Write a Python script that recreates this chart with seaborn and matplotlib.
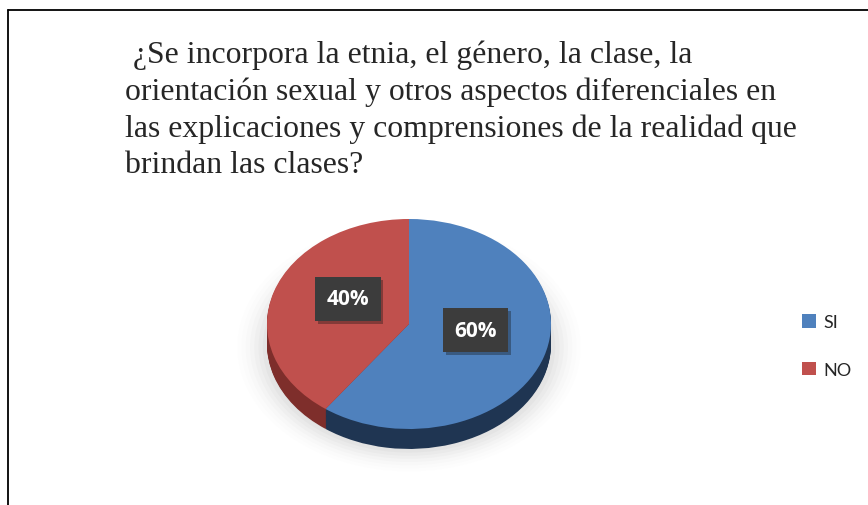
import numpy as np
import matplotlib
matplotlib.use("Agg")
import matplotlib.pyplot as plt
import matplotlib.patheffects as pe
from matplotlib.lines import Line2D
from matplotlib.patches import Patch, Ellipse
import seaborn as sns

sns.set_style("white")

labels = ["SI", "NO"]
values = [60, 40]
top_colors = ["#4F81BD", "#C0504D"]
side_colors = ["#1F3552", "#7E2E2B"]
title_lines = [" ¿Se incorpora la etnia, el género, la clase, la",
               "orientación sexual y otros aspectos diferenciales en",
               "las explicaciones y comprensiones de la realidad que",
               "brindan las clases?"]

W, H = 868, 506
fig = plt.figure(figsize=(W / 100, H / 100), dpi=100)
fig.patch.set_facecolor("white")

# frame (cropped: only top and left edges visible)
fig.add_artist(Line2D([8 / W, 8 / W], [0, 1 - 11 / H], color="black", lw=1.3))
fig.add_artist(Line2D([8 / W, 1], [1 - 11 / H, 1 - 11 / H], color="black", lw=1.3))

# title, one line at a time (baselines in px)
for line, yb in zip(title_lines, [63, 100, 137, 173]):
    fig.text(125 / W, 1 - yb / H, line, ha="left", va="baseline",
             family="Liberation Serif", fontsize=22.9)

# pie geometry in px: centre (409, 325), radii 142 x 105
cx, cy, rx, ry = 409, 325, 142, 105
x0, x1, y0, y1 = 220, 600, 200, 495
ax = fig.add_axes([x0 / W, 1 - y1 / H, (x1 - x0) / W, (y1 - y0) / H])


def set_limits():
    ax.set_xlim((x0 - cx) / rx, (x1 - cx) / rx)
    ax.set_ylim((cy - y1) / ry, (cy - y0) / ry)
    ax.set_aspect("auto")
    ax.axis("off")


# soft shadow under the pie
for i, a in enumerate(np.linspace(0.05, 0.012, 8)):
    ax.add_patch(Ellipse((0, -0.22), 2.0 + i * 0.06, 1.95 + i * 0.06,
                         facecolor="#808080", edgecolor="none", alpha=a, zorder=0))

# side of the 3D pie: stacked darker copies
for d in np.linspace(-0.19, -0.01, 24):
    ax.pie(values, colors=side_colors, startangle=90, counterclock=False,
           radius=1, center=(0, d), frame=True,
           wedgeprops=dict(linewidth=0))

wedges, _, autotexts = ax.pie(values, colors=top_colors, startangle=90,
                              counterclock=False, radius=1, center=(0, 0),
                              frame=True, autopct="%1.0f%%", pctdistance=0.6,
                              wedgeprops=dict(linewidth=0))
set_limits()

label_pos = [(0.47, -0.06), (-0.43, 0.24)]
for t, p in zip(autotexts, label_pos):
    t.set_position(p)
    t.set_color("white")
    t.set_fontsize(15)
    t.set_fontweight("bold")
    t.set_family("Open Sans")
    t.set_bbox(dict(boxstyle="square,pad=0.55", facecolor="#3C3C3C", edgecolor="none"))
    t.get_bbox_patch().set_path_effects(
        [pe.SimplePatchShadow(offset=(2, -2), alpha=0.35), pe.Normal()])

handles = [Patch(facecolor=c, edgecolor="none") for c in top_colors]
fig.legend(handles, labels, loc="center left", bbox_to_anchor=(786 / W, 1 - 347 / H),
           frameon=False, prop=dict(family="Lato", size=13),
           handlelength=0.75, handleheight=0.75, handletextpad=0.4, labelspacing=1.75)

fig.savefig("out.png", dpi=100, facecolor="white")
